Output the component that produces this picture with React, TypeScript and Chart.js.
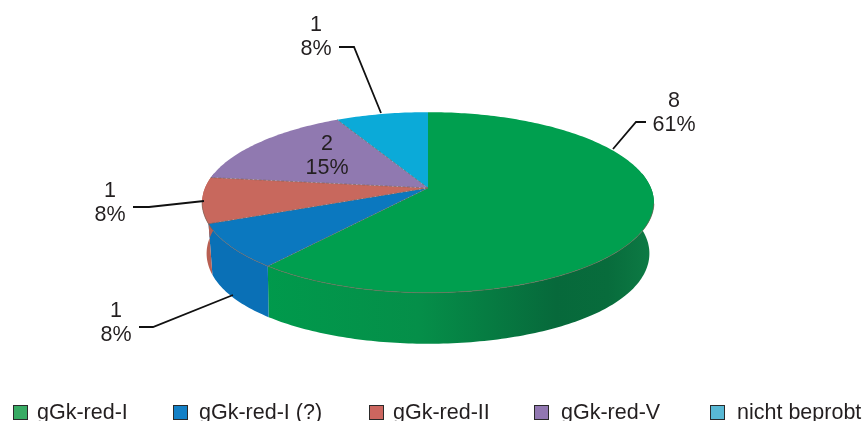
import React, { useEffect, useRef } from "react";
import { Chart, registerables } from "chart.js";

Chart.register(...registerables);

const categories = ["gGk-red-I", "gGk-red-I (?)", "gGk-red-II", "gGk-red-V", "nicht beprobt"];
const counts = [8, 1, 1, 2, 1];
const percents = ["61%", "8%", "8%", "15%", "8%"];
const topColors = ["#009f4f", "#0b78bf", "#c8685d", "#9079b0", "#0baad8"];
const wallColors = ["#0a8a48", "#0a70b6", "#b85f52", "#7f6a9e", "#0a98c0"];
const legendColors = ["#38ab64", "#1380c6", "#cc665f", "#9278b2", "#58b8d4"];

const INK = "#231f20";
const FONT = '21.5px "Liberation Sans", Arial, sans-serif';
const CX = 428, CY = 188, RX = 223, RY = 88, K = -0.16, DEPTH = 51;

function project(theta: number) {
  // small correction of the lower-left quadrant, as in the original drawing
  const d = theta > Math.PI && theta < 1.5 * Math.PI ? 0.045 * Math.sin(2 * (theta - Math.PI)) : 0;
  const t = theta - d;
  const u = Math.sin(t);
  const v = -Math.cos(t);
  const w = 1 + K * v;
  return { x: CX + (RX * u) / w, y: CY + (RY * v) / w };
}

function bottomX(x: number) {
  const r = (x - CX) / 226;
  return CX + (x - CX) * (1 - 0.02 * r * r * r * r);
}

const labelSpots = [
  { x: 674, y: 107, anchor: [[646, 122], [636, 122], [613, 149]] },
  { x: 116, y: 317, anchor: [[139, 327], [153, 327], [233, 295]] },
  { x: 110, y: 197, anchor: [[133, 207], [149, 207], [204, 201]] },
  { x: 327, y: 150, anchor: [] as number[][] },
  { x: 316, y: 31, anchor: [[339, 47], [354, 47], [381, 113]] },
];
const legendSpots = [13, 173, 369, 534, 710];
const legendTextSpots = [37, 199, 393, 561, 737];

const pie3d = {
  id: "pie3d",
  beforeDatasetsDraw(chart: any) {
    const ctx: CanvasRenderingContext2D = chart.ctx;
    const arcs = chart.getDatasetMeta(0).data;
    const span = (a: any) => [a.startAngle + Math.PI / 2, a.endAngle + Math.PI / 2];
    const rim = (t0: number, t1: number) => {
      const n = Math.max(2, Math.ceil(((t1 - t0) * 180) / Math.PI));
      return Array.from({ length: n + 1 }, (_, i) => project(t0 + ((t1 - t0) * i) / n));
    };
    ctx.save();
    // side wall
    const lo = (80 * Math.PI) / 180, hi = (280 * Math.PI) / 180;
    arcs.forEach((a: any, i: number) => {
      const [s, e] = span(a);
      const t0 = Math.max(s, lo), t1 = Math.min(e, hi);
      if (t1 <= t0) return;
      const pts = rim(t0, t1);
      ctx.beginPath();
      pts.forEach((p, j) => (j ? ctx.lineTo(p.x, p.y) : ctx.moveTo(p.x, p.y)));
      [...pts].reverse().forEach((p) => ctx.lineTo(bottomX(p.x), p.y + DEPTH));
      ctx.closePath();
      if (i === 0) {
        const g = ctx.createLinearGradient(260, 0, 655, 0);
        g.addColorStop(0, "#009a4c");
        g.addColorStop(0.4, "#058f49");
        g.addColorStop(0.75, "#07693b");
        g.addColorStop(0.88, "#086c3c");
        g.addColorStop(1, "#0d7c45");
        ctx.fillStyle = g;
      } else ctx.fillStyle = wallColors[i];
      ctx.fill();
    });
    // top face
    arcs.forEach((a: any, i: number) => {
      const [s, e] = span(a);
      ctx.beginPath();
      ctx.moveTo(CX, CY);
      rim(s, e).forEach((p) => ctx.lineTo(p.x, p.y));
      ctx.closePath();
      ctx.fillStyle = topColors[i];
      ctx.fill();
    });
    // thin dashed edges between slices and along the front rim
    ctx.strokeStyle = "rgba(120,95,85,0.75)";
    ctx.lineWidth = 0.9;
    ctx.setLineDash([3, 1.5]);
    arcs.forEach((a: any, i: number) => {
      const [s] = span(a);
      if (i === 0) return;
      const p = project(s);
      ctx.beginPath();
      ctx.moveTo(CX, CY);
      ctx.lineTo(p.x, p.y);
      ctx.stroke();
    });
    ctx.setLineDash([]);
    const front = rim((100 * Math.PI) / 180, (262 * Math.PI) / 180);
    ctx.beginPath();
    front.forEach((p, j) => (j ? ctx.lineTo(p.x, p.y) : ctx.moveTo(p.x, p.y)));
    ctx.stroke();
    ctx.restore();
    return false;
  },
  afterDraw(chart: any) {
    const ctx: CanvasRenderingContext2D = chart.ctx;
    ctx.save();
    ctx.font = FONT;
    ctx.textBaseline = "alphabetic";
    // leader lines
    ctx.strokeStyle = "#111";
    ctx.lineWidth = 1.8;
    labelSpots.forEach((s) => {
      if (!s.anchor.length) return;
      ctx.beginPath();
      s.anchor.forEach(([x, y], j) => (j ? ctx.lineTo(x, y) : ctx.moveTo(x, y)));
      ctx.stroke();
    });
    // value labels
    ctx.fillStyle = INK;
    ctx.textAlign = "center";
    counts.forEach((c, i) => {
      const s = labelSpots[i];
      ctx.fillText(String(c), s.x, s.y);
      ctx.fillText(percents[i], s.x, s.y + 24);
    });
    // legend
    ctx.textAlign = "left";
    categories.forEach((c, i) => {
      const x = legendSpots[i];
      ctx.fillStyle = legendColors[i];
      ctx.fillRect(x, 405, 14, 14);
      ctx.strokeStyle = "#2a2a2a";
      ctx.lineWidth = 1;
      ctx.strokeRect(x + 0.5, 405.5, 14, 14);
      ctx.fillStyle = INK;
      ctx.fillText(c, legendTextSpots[i], 419);
    });
    ctx.restore();
  },
};

export default function App() {
  const ref = useRef<HTMLCanvasElement>(null);
  useEffect(() => {
    const chart = new Chart(ref.current!, {
      type: "pie",
      data: {
        labels: categories,
        datasets: [{ data: counts, backgroundColor: topColors, borderWidth: 0 }],
      },
      options: {
        animation: false,
        responsive: false,
        plugins: { legend: { display: false }, tooltip: { enabled: false } },
      },
      plugins: [pie3d],
    } as any);
    return () => chart.destroy();
  }, []);
  return (
    <canvas
      ref={ref}
      width={862}
      height={421}
      style={{ position: "fixed", left: 0, top: 0, width: 862, height: 421, background: "#fff" }}
    />
  );
}
